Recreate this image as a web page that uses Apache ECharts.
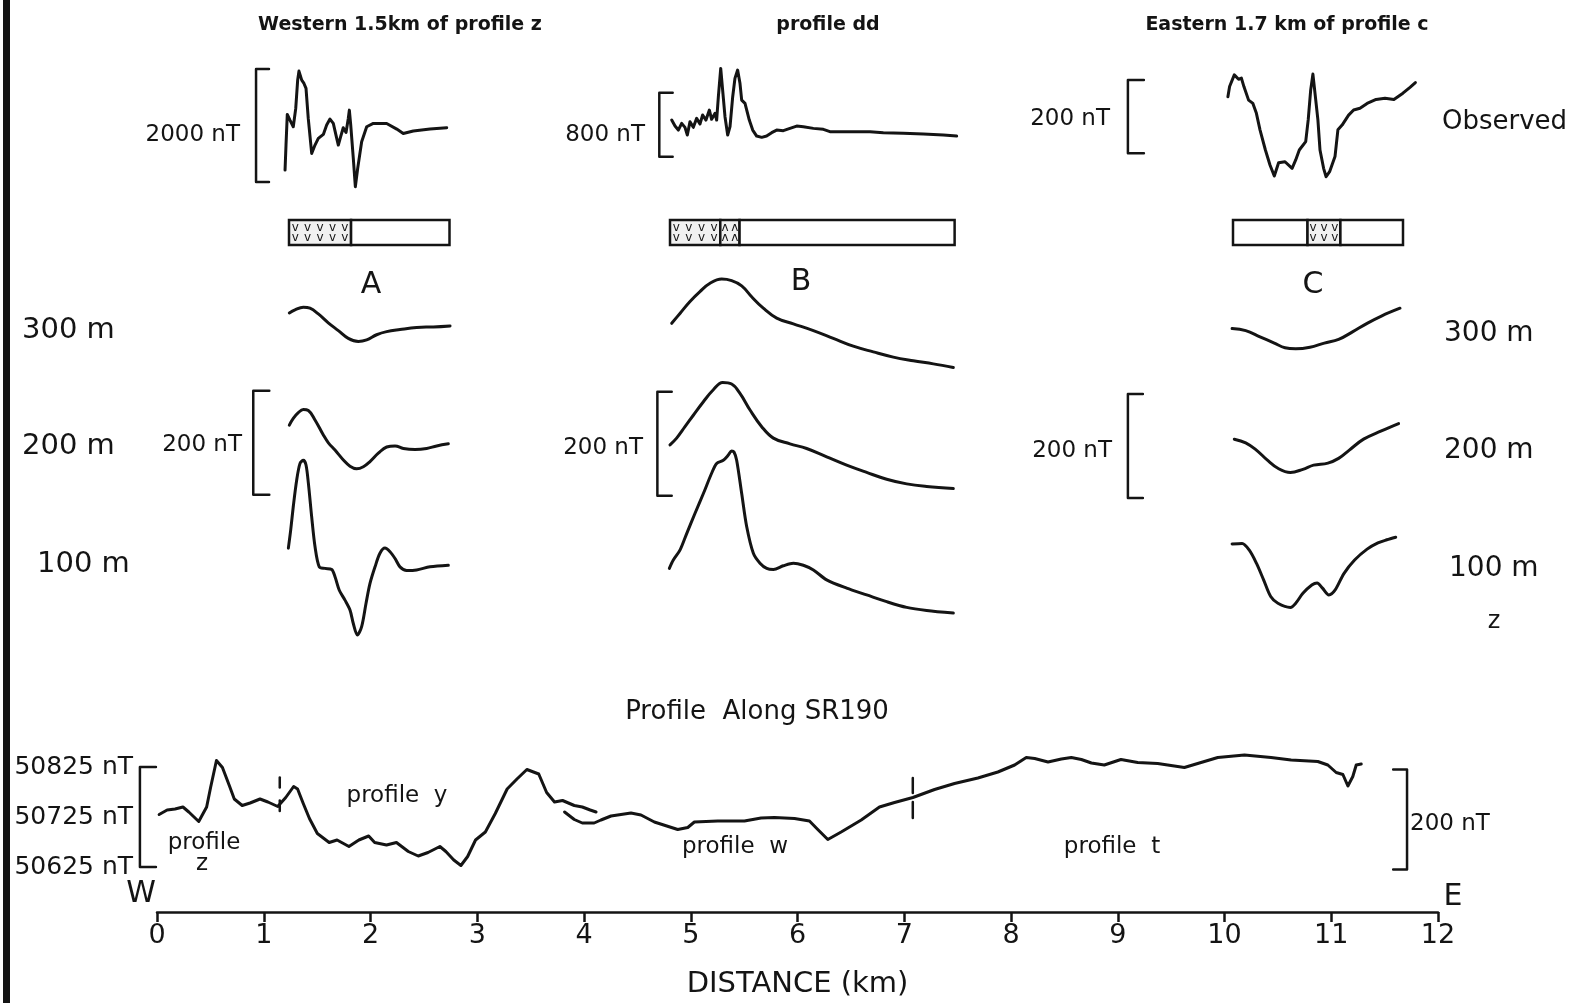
<!DOCTYPE html>
<html>
<head>
<meta charset="utf-8">
<title>Profile Along SR190</title>
<script src="https://cdn.jsdelivr.net/npm/echarts@6/dist/echarts.min.js"></script>
<style>
  html, body { margin: 0; padding: 0; background: #fff; }
  #chart { width: 1577px; height: 1003px; }
</style>
</head>
<body>
<div id="chart"></div>
<script>
var ink = '#141414'
var font = 'DejaVu Sans'

// observed profiles: distance along profile (km), anomaly (nT, relative)
var obsAKm = [-0.037,-0.028,-0.016,0.009,0.040,0.063,0.081,0.093,0.119,0.140,0.159,0.180,0.212,0.243,0.274,0.321,0.352,0.383,0.414,0.439,0.461,0.483,0.507,0.533,0.554,0.564,0.577,0.601,0.620,0.642,0.679,0.726,0.788,0.913,1.007,1.068,1.162,1.318,1.474]
var obsANT = [212,655,1198,1097,979,1304,1805,1965,1805,1746,1658,1127,507,655,773,844,1009,1115,1038,832,655,803,962,879,1127,1274,1009,419,-83,242,714,979,1038,1038,938,861,903,938,962]
var obsBKm = [0.016,0.047,0.078,0.109,0.140,0.162,0.187,0.218,0.249,0.280,0.305,0.336,0.368,0.389,0.421,0.436,0.452,0.474,0.492,0.514,0.539,0.561,0.586,0.607,0.632,0.654,0.670,0.701,0.741,0.773,0.810,0.857,0.903,0.950,0.997,1.059,1.121,1.184,1.246,1.340,1.433,1.495,1.682,1.869,1.994,2.180,2.368,2.555,2.679]
var obsBNT = [458,383,333,417,367,271,438,367,479,408,521,458,583,467,542,458,750,1104,833,500,271,375,750,979,1083,917,708,667,458,333,258,242,258,300,333,325,354,383,375,354,342,313,313,313,300,292,283,271,258]
var obsCKm = [-0.051,-0.034,0.013,0.056,0.084,0.109,0.156,0.199,0.234,0.270,0.324,0.370,0.413,0.456,0.520,0.591,0.627,0.663,0.727,0.752,0.777,0.799,0.824,0.849,0.870,0.906,0.931,0.966,1.020,1.049,1.091,1.156,1.206,1.270,1.341,1.431,1.520,1.609,1.699,1.770,1.824]
var obsCNT = [154,182,214,202,205,182,145,136,109,64,9,-32,-62,-26,-23,-41,-18,9,32,91,173,216,154,91,9,-41,-64,-50,-9,64,77,104,118,123,136,147,150,147,164,180,193]

// calculated profiles at 300 m, 200 m, 100 m
var a300Km = [0.003,0.056,0.134,0.196,0.274,0.367,0.461,0.554,0.648,0.726,0.819,0.913,1.037,1.193,1.349,1.505]
var a300NT = [129,135,140,138,127,110,95,80,74,77,87,93,97,101,102,104]
var a200Km = [0.003,0.040,0.087,0.134,0.181,0.243,0.321,0.368,0.430,0.508,0.570,0.632,0.695,0.757,0.835,0.913,0.991,1.069,1.178,1.287,1.380,1.489]
var a200NT = [144,157,168,174,172,154,125,110,96,77,65,60,64,74,90,102,104,99,97,99,104,108]
var a100Km = [-0.006,0.016,0.040,0.072,0.103,0.134,0.159,0.181,0.212,0.243,0.283,0.336,0.399,0.430,0.470,0.523,0.570,0.601,0.639,0.679,0.720,0.757,0.804,0.850,0.897,0.944,0.991,1.037,1.100,1.193,1.318,1.489]
var a100NT = [196,231,276,327,359,365,356,321,256,199,160,157,155,141,115,96,77,51,29,45,90,128,160,186,196,189,176,160,153,154,160,163]

var b300Km = [0.016,0.093,0.187,0.280,0.374,0.483,0.576,0.670,0.763,0.872,0.997,1.153,1.340,1.526,1.713,1.900,2.087,2.274,2.461,2.648]
var b300NT = [109,128,151,170,186,194,191,181,160,138,119,108,95,80,65,54,44,37,31,24]
var b200Km = [0.000,0.062,0.140,0.218,0.312,0.405,0.492,0.576,0.654,0.748,0.857,0.966,1.121,1.277,1.464,1.651,1.838,2.025,2.212,2.399,2.648]
var b200NT = [106,119,141,163,189,212,226,223,205,173,141,119,108,99,83,67,53,40,31,26,22]
var b100Km = [-0.006,0.031,0.093,0.156,0.234,0.312,0.389,0.436,0.498,0.545,0.576,0.598,0.623,0.670,0.717,0.779,0.841,0.904,0.966,1.059,1.153,1.246,1.340,1.464,1.651,1.838,2.025,2.212,2.399,2.648]
var b100NT = [157,173,192,224,263,301,340,359,365,375,383,381,365,301,237,186,167,157,155,162,167,163,154,135,119,106,93,82,76,71]

var c300Km = [-0.009,0.127,0.270,0.413,0.520,0.627,0.770,0.913,1.056,1.199,1.341,1.484,1.670]
var c300NT = [99,95,83,71,62,60,63,71,78,93,109,123,138]
var c200Km = [0.013,0.127,0.234,0.341,0.449,0.574,0.699,0.806,0.949,1.056,1.163,1.306,1.484,1.656]
var c200NT = [117,110,96,77,61,53,59,67,71,80,96,117,133,147]
var c100Km = [-0.009,0.091,0.163,0.234,0.306,0.377,0.449,0.574,0.627,0.699,0.788,0.841,0.895,0.959,1.020,1.109,1.216,1.341,1.449,1.538,1.627]
var c100NT = [204,205,192,167,135,103,90,82,90,109,125,129,119,106,115,147,173,194,206,212,217]

// geology strips: [from km, to km, kind] kind 0 = blank, 1 = volcanics (v), 2 = (^)
var geoA = [[0, 0.58, 1], [0.58, 1.5, 0]]
var geoB = [[0, 0.47, 1], [0.47, 0.65, 2], [0.65, 2.66, 0]]
var geoC = [[0, 0.745, 0], [0.745, 1.074, 1], [1.074, 1.70, 0]]

// profile along SR190: distance (km), total field (nT)
var westKm = [0.02,0.095,0.169,0.243,0.298,0.391,0.465,0.502,0.557,0.613,0.679,0.724,0.798,0.872,0.965,1.039,1.131,1.206,1.280,1.317,1.372,1.428,1.502,1.613,1.687,1.798,1.891,1.983,2.039,2.150,2.243,2.354,2.447,2.539,2.650,2.706,2.780,2.847,2.910,2.984,3.076,3.169,3.280,3.372,3.465,3.576,3.650,3.724,3.799,3.909,3.984,4.058,4.113]
var westNT = [50730,50739,50741,50745,50735,50716,50745,50784,50838,50824,50787,50761,50748,50753,50761,50755,50746,50764,50786,50781,50751,50722,50692,50674,50679,50666,50679,50687,50674,50669,50674,50656,50647,50654,50666,50656,50639,50628,50646,50679,50695,50732,50781,50801,50820,50811,50774,50755,50758,50748,50745,50739,50735]
var eastKm = [3.818,3.909,3.984,4.095,4.159,4.253,4.440,4.534,4.659,4.878,4.972,5.034,5.253,5.503,5.659,5.784,5.972,6.112,6.190,6.284,6.409,6.597,6.768,6.909,7.081,7.284,7.471,7.690,7.877,8.034,8.143,8.222,8.347,8.472,8.565,8.659,8.753,8.874,9.030,9.187,9.374,9.624,9.749,9.937,10.187,10.436,10.624,10.874,10.968,11.046,11.109,11.156,11.202,11.234,11.281]
var eastNT = [50735,50720,50713,50713,50719,50727,50733,50729,50715,50700,50704,50715,50717,50717,50723,50724,50722,50717,50700,50680,50695,50719,50745,50754,50764,50780,50792,50803,50815,50829,50844,50842,50835,50841,50844,50840,50833,50829,50840,50834,50832,50824,50832,50844,50849,50844,50839,50836,50829,50814,50810,50787,50806,50829,50831]
var nTTicks = [50625, 50725, 50825]
// profile junctions: km, then nT spans above/below the trace
var joinKm = [1.15, 7.08]
var joinNT = [[50784, 50804, 50737, 50758], [50773, 50803, 50723, 50755]]

// layout
var panels = {
  A: { x0: 289, pxKm: 107, xmin: -0.37, xmax: 1.55 },
  B: { x0: 670, pxKm: 107, xmin: -0.15, xmax: 2.72 },
  C: { x0: 1233, pxKm: 100, xmin: -1.1, xmax: 1.85 }
}
var rows = {
  obsA: { top: 55, height: 144, ymin: -300, ymax: 2250 },
  obsB: { top: 56.7, height: 112, ymin: -150, ymax: 1250 },
  obsC: { top: 65.3, height: 121, ymin: -90, ymax: 240 },
  geo: { top: 220, height: 25, ymin: 0, ymax: 1 },
  r300: { top: 270, height: 110, ymin: 0, ymax: 211.5 },
  r200: { top: 370, height: 130, ymin: 0, ymax: 250 },
  r100: { top: 440, height: 210, ymin: 0, ymax: 404 }
}

var grids = [], xAxes = [], yAxes = [], series = [], cache = {}

function gridFor(pk, rk) {
  var key = pk + rk
  if (cache[key] != null) return cache[key]
  var p = panels[pk], r = rows[rk]
  var i = grids.length
  grids.push({ left: p.x0 + p.xmin * p.pxKm, width: (p.xmax - p.xmin) * p.pxKm, top: r.top, height: r.height })
  xAxes.push({ type: 'value', gridIndex: i, min: p.xmin, max: p.xmax, show: false })
  yAxes.push({ type: 'value', gridIndex: i, min: r.ymin, max: r.ymax, show: false })
  cache[key] = i
  return i
}

function addLine(g, xs, ys, smooth, width) {
  series.push({
    type: 'line', xAxisIndex: g, yAxisIndex: g,
    data: xs.map(function (x, k) { return [x, ys[k]] }),
    showSymbol: false, symbol: 'none', smooth: smooth,
    lineStyle: { color: ink, width: width, cap: 'round', join: 'round' },
    silent: true
  })
}

// scale bracket: vertical at xv, ticks reach xt, from y0 up by h
function bracket(g, xv, xt, y0, h) {
  addLine(g, [xt, xv, xv, xt], [y0, y0, y0 + h, y0 + h], false, 2.5)
}

function addGeo(pk, units) {
  var g = gridFor(pk, 'geo')
  series.push({
    type: 'custom', xAxisIndex: g, yAxisIndex: g, data: units, silent: true,
    renderItem: function (params, api) {
      var a = api.coord([api.value(0), 0]), b = api.coord([api.value(1), 1])
      var kind = api.value(2)
      var w = b[0] - a[0], h = a[1] - b[1]
      var kids = [{ type: 'rect', shape: { x: a[0], y: b[1], width: w, height: h },
        style: { fill: kind ? '#f1f1f1' : '#fff', stroke: ink, lineWidth: 2.5 } }]
      if (kind) {
        var n = Math.max(2, Math.round(w / 12))
        for (var r = 0; r < 2; r++) {
          for (var c = 0; c < n; c++) {
            kids.push({ type: 'text', x: a[0] + (c + 0.5) * w / n, y: b[1] + h * (r ? 0.7 : 0.32),
              style: { text: kind === 1 ? 'v' : 'ʌ', fontSize: 12, fontFamily: font, fill: ink, align: 'center', verticalAlign: 'middle' } })
          }
        }
      }
      return { type: 'group', children: kids }
    }
  })
}

// upper panels
addLine(gridFor('A', 'obsA'), obsAKm, obsANT, false, 3)
addLine(gridFor('B', 'obsB'), obsBKm, obsBNT, false, 3)
addLine(gridFor('C', 'obsC'), obsCKm, obsCNT, false, 3)
addGeo('A', geoA)
addGeo('B', geoB)
addGeo('C', geoC)
addLine(gridFor('A', 'r300'), a300Km, a300NT, 0.4, 3)
addLine(gridFor('A', 'r200'), a200Km, a200NT, 0.4, 3)
addLine(gridFor('A', 'r100'), a100Km, a100NT, 0.3, 3)
addLine(gridFor('B', 'r300'), b300Km, b300NT, 0.4, 3)
addLine(gridFor('B', 'r200'), b200Km, b200NT, 0.4, 3)
addLine(gridFor('B', 'r100'), b100Km, b100NT, 0.3, 3)
addLine(gridFor('C', 'r300'), c300Km, c300NT, 0.4, 3)
addLine(gridFor('C', 'r200'), c200Km, c200NT, 0.4, 3)
addLine(gridFor('C', 'r100'), c100Km, c100NT, 0.3, 3)

bracket(gridFor('A', 'obsA'), -0.308, -0.187, 0, 2000)
bracket(gridFor('B', 'obsB'), -0.100, 0.025, 0, 800)
bracket(gridFor('C', 'obsC'), -1.051, -0.891, 0, 200)
bracket(gridFor('A', 'r200'), -0.334, -0.184, 10, 200)
bracket(gridFor('B', 'r200'), -0.118, 0.016, 8, 200)
bracket(gridFor('C', 'r200'), -1.051, -0.901, 4, 200)

// bottom profile
var gb = grids.length
grids.push({ left: 157, top: 740, width: 1281, height: 172 })
xAxes.push({
  type: 'value', gridIndex: gb, min: 0, max: 12, interval: 1, position: 'bottom',
  axisLine: { show: true, onZero: false, lineStyle: { color: ink, width: 2.5 } },
  axisTick: { show: true, length: 10, lineStyle: { color: ink, width: 2.5 } },
  axisLabel: { color: ink, fontSize: 27, fontFamily: font, margin: 10 },
  splitLine: { show: false },
  name: 'DISTANCE (km)', nameLocation: 'middle', nameGap: 58,
  nameTextStyle: { color: ink, fontSize: 29, fontFamily: font }
})
yAxes.push({
  type: 'value', gridIndex: gb, min: 50535, max: 50879,
  axisLine: { show: false }, axisTick: { show: false }, splitLine: { show: false },
  axisLabel: { customValues: nTTicks, formatter: function (v) { return v + ' nT' },
    color: ink, fontSize: 25, fontFamily: font, margin: 24 }
})
addLine(gb, westKm, westNT, false, 3)
addLine(gb, eastKm, eastNT, false, 3)
joinKm.forEach(function (km, i) {
  var s = joinNT[i]
  addLine(gb, [km, km], [s[0], s[1]], false, 2.5)
  addLine(gb, [km, km], [s[2], s[3]], false, 2.5)
})

// overlay grid (same scale, wider x range) for the two scale brackets
var go = grids.length
grids.push({ left: 157 - 0.5 * 106.75, top: 740, width: 13 * 106.75, height: 172 })
xAxes.push({ type: 'value', gridIndex: go, min: -0.5, max: 12.5, show: false })
yAxes.push({ type: 'value', gridIndex: go, min: 50535, max: 50879, show: false })
bracket(go, -0.16, -0.01, 50625, 200)
bracket(go, 11.71, 11.58, 50620, 200)

// text labels: text, x, y, align, size, weight
var labels = [
  ['Western 1.5km of profile z', 400, 25, 'center', 19, 'bold'],
  ['profile dd', 828, 25, 'center', 19, 'bold'],
  ['Eastern 1.7 km of profile c', 1287, 25, 'center', 19, 'bold'],
  ['2000 nT', 240, 135, 'right', 23, 'normal'],
  ['800 nT', 645, 135, 'right', 23, 'normal'],
  ['200 nT', 1110, 119, 'right', 23, 'normal'],
  ['Observed', 1442, 122, 'left', 26, 'normal'],
  ['A', 371, 285, 'center', 30, 'normal'],
  ['B', 801, 282, 'center', 30, 'normal'],
  ['C', 1313, 285, 'center', 30, 'normal'],
  ['300 m', 22, 330, 'left', 29, 'normal'],
  ['200 m', 22, 446, 'left', 29, 'normal'],
  ['100 m', 37, 564, 'left', 29, 'normal'],
  ['300 m', 1444, 334, 'left', 28, 'normal'],
  ['200 m', 1444, 451, 'left', 28, 'normal'],
  ['100 m', 1449, 569, 'left', 28, 'normal'],
  ['z', 1494, 622, 'center', 24, 'normal'],
  ['200 nT', 242, 445, 'right', 23, 'normal'],
  ['200 nT', 643, 448, 'right', 23, 'normal'],
  ['200 nT', 1112, 451, 'right', 23, 'normal'],
  ['Profile  Along SR190', 757, 712, 'center', 26, 'normal'],
  ['profile', 204, 843, 'center', 23, 'normal'],
  ['z', 202, 864, 'center', 23, 'normal'],
  ['profile  y', 397, 796, 'center', 23, 'normal'],
  ['profile  w', 735, 847, 'center', 23, 'normal'],
  ['profile  t', 1112, 847, 'center', 23, 'normal'],
  ['W', 141, 894, 'center', 30, 'normal'],
  ['E', 1453, 897, 'center', 30, 'normal'],
  ['200 nT', 1410, 824, 'left', 23, 'normal']
]

var graphic = [{ type: 'rect', shape: { x: 3, y: 0, width: 7, height: 1003 }, style: { fill: ink }, silent: true }]
labels.forEach(function (l) {
  graphic.push({
    type: 'text', x: l[1], y: l[2], silent: true,
    style: { text: l[0], fill: ink, fontSize: l[4], fontWeight: l[5], fontFamily: font, align: l[3], verticalAlign: 'middle' }
  })
})

var myChart = echarts.init(document.getElementById('chart'))
myChart.setOption({
  backgroundColor: '#fff',
  animation: false,
  grid: grids,
  xAxis: xAxes,
  yAxis: yAxes,
  series: series,
  graphic: graphic
})
</script>
</body>
</html>
